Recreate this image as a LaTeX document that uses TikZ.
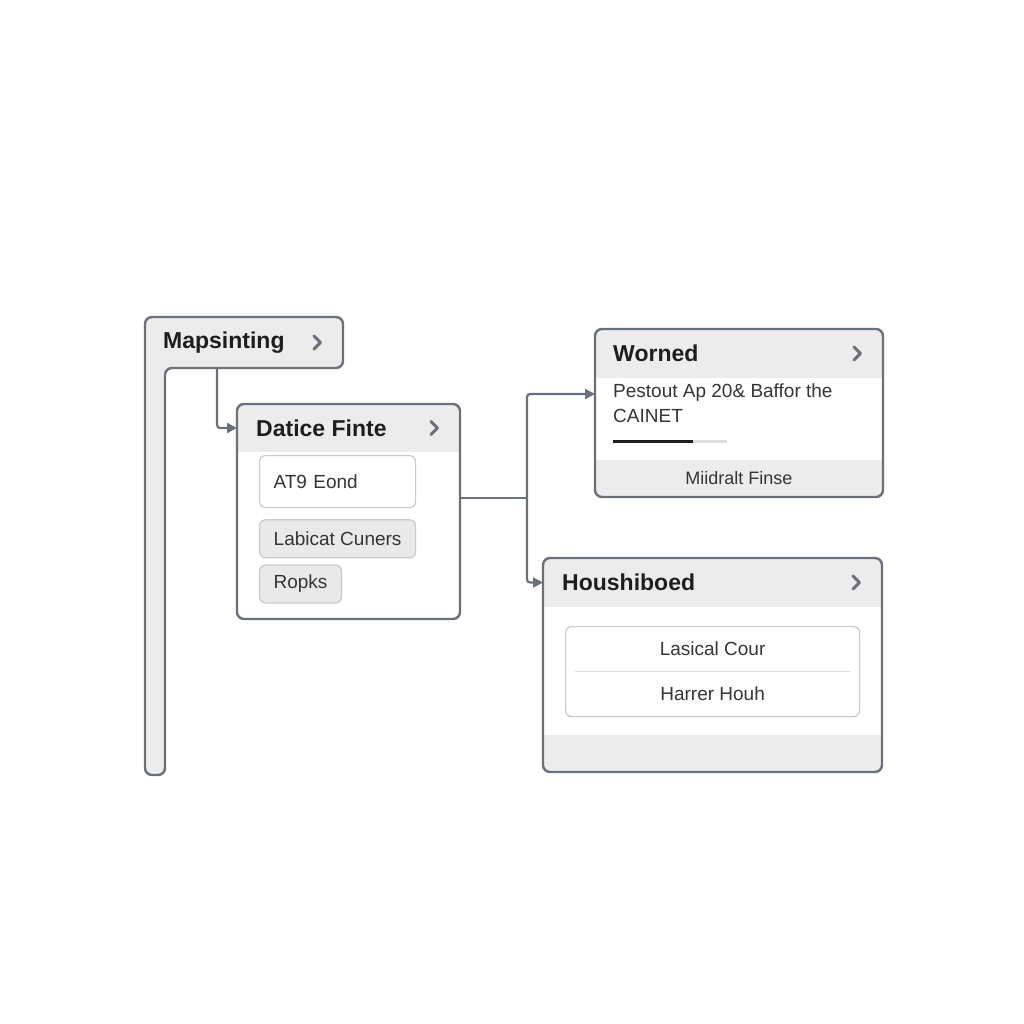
\documentclass[tikz,border=0pt]{standalone}
\usepackage{fontspec}
\setmainfont{Liberation Sans}
\usepackage{xcolor}
\usetikzlibrary{positioning,arrows.meta}

\definecolor{edge}{HTML}{6B7079}
\definecolor{band}{HTML}{ECECEC}
\definecolor{chipfill}{HTML}{E9E9E9}
\definecolor{chipedge}{HTML}{C9C9C9}
\definecolor{ink}{HTML}{1E1E1E}
\definecolor{txt}{HTML}{353535}
\definecolor{barbg}{HTML}{DDDDDD}

\newcommand{\chevat}[1]{\draw[chev] ([shift={(-29pt,6.5pt)}]#1) -- ++(6.5,6.5) -- ++(-6.5,6.5);}

\begin{document}
\begin{tikzpicture}[x=1pt, y=-1pt, font=\sffamily,
    card/.style={fill=white, inner sep=0pt, outer sep=0pt, anchor=north west},
    frame/.style={draw=edge, line width=2.4pt, rounded corners=7pt},
    hdr/.style={inner sep=0pt, outer sep=0pt, anchor=north west},
    title/.style={font=\bfseries\fontsize{23}{27}\selectfont, text=ink, inner sep=0pt, anchor=west},
    body/.style={font=\fontsize{19}{25}\selectfont, text=txt, inner sep=0pt},
    chip/.style={draw=chipedge, line width=1.2pt, rounded corners=6pt, font=\fontsize{19}{23}\selectfont, text=txt, inner xsep=14pt, inner ysep=0pt, anchor=north west},
    link/.style={draw=edge, line width=2.2pt, rounded corners=3pt, -{Triangle[length=10pt,width=10pt]}},
    wire/.style={draw=edge, line width=2.2pt, rounded corners=3pt},
    chev/.style={draw=edge, line width=3pt, line cap=round, line join=round}]
	\fill[white] (0,0) rectangle (1024,1024);
	\useasboundingbox (0,0) rectangle (1024,1024);

	% left rail with its header
	\filldraw[frame, fill=band] (145,317) -- (343,317) -- (343,368) -- (165,368) -- (165,775) -- (145,775) -- cycle;
	\node[hdr, minimum width=198pt, minimum height=51pt] (maps) at (145,317) {};
	\node[title] (mapsTitle) at ([xshift=18pt]maps.west) {Mapsinting};
	\chevat{maps.east}

	% middle card
	\node[card, minimum width=223pt, minimum height=215pt] (datice) at (237,404) {};
	\node[hdr, minimum width=223pt, minimum height=48pt] (daticeHdr) at (datice.north west) {};
	\begin{scope}
		\clip[rounded corners=7pt] (datice.north west) rectangle (datice.south east);
		\fill[band] (daticeHdr.north west) rectangle (daticeHdr.south east);
	\end{scope}
	\draw[frame] (datice.north west) rectangle (datice.south east);
	\node[title] (daticeTitle) at ([xshift=19pt]daticeHdr.west) {Datice Finte};
	\chevat{daticeHdr.east}
	\node[chip, fill=white, minimum height=52pt, text width=128pt, align=left] (at9) at ([shift={(22pt,-3pt)}]daticeHdr.south west) {AT9 Eond};
	\node[chip, fill=chipfill, minimum height=38pt, minimum width=156pt, below=11pt of at9.south west, anchor=north west] (labicat) {Labicat Cuners};
	\node[chip, fill=chipfill, minimum height=38pt, minimum width=78pt, below=6pt of labicat.south west, anchor=north west] (ropks) {Ropks};

	% top right card
	\node[card, minimum width=288pt, minimum height=168pt] (worned) at (595,329) {};
	\node[hdr, minimum width=288pt, minimum height=49pt] (wornedHdr) at (worned.north west) {};
	\node[hdr, minimum width=288pt, minimum height=37pt, anchor=south west] (wornedFoot) at (worned.south west) {};
	\begin{scope}
		\clip[rounded corners=7pt] (worned.north west) rectangle (worned.south east);
		\fill[band] (wornedHdr.north west) rectangle (wornedHdr.south east);
		\fill[band] (wornedFoot.north west) rectangle (wornedFoot.south east);
	\end{scope}
	\draw[frame] (worned.north west) rectangle (worned.south east);
	\node[title] (wornedTitle) at ([xshift=18pt]wornedHdr.west) {Worned};
	\chevat{wornedHdr.east}
	\node[body, anchor=north west, align=left] (wornedTxt) at ([shift={(18pt,-6pt)}]wornedHdr.south west) {Pestout Ap 20\& Baffor the\\CAINET};
	\draw[barbg, line width=3pt] ([shift={(18pt,-63pt)}]wornedHdr.south west) -- ++(114,0);
	\draw[ink, line width=3pt] ([shift={(18pt,-63pt)}]wornedHdr.south west) -- ++(80,0);
	\node[body, font=\fontsize{18}{22}\selectfont] (wornedNote) at (wornedFoot.center) {Miidralt Finse};

	% lower right card
	\node[card, minimum width=339pt, minimum height=214pt] (housh) at (543,558) {};
	\node[hdr, minimum width=339pt, minimum height=49pt] (houshHdr) at (housh.north west) {};
	\node[hdr, minimum width=339pt, minimum height=37pt, anchor=south west] (houshFoot) at (housh.south west) {};
	\begin{scope}
		\clip[rounded corners=7pt] (housh.north west) rectangle (housh.south east);
		\fill[band] (houshHdr.north west) rectangle (houshHdr.south east);
		\fill[band] (houshFoot.north west) rectangle (houshFoot.south east);
	\end{scope}
	\draw[frame] (housh.north west) rectangle (housh.south east);
	\node[title] (houshTitle) at ([xshift=19pt]houshHdr.west) {Houshiboed};
	\chevat{houshHdr.east}
	\node[chip, fill=white, minimum width=294pt, minimum height=90pt] (houshList) at ([shift={(22pt,-19pt)}]houshHdr.south west) {};
	\draw[barbg, line width=1pt] ([xshift=10pt]houshList.west) -- ([xshift=-10pt]houshList.east);
	\node[body] (lasical) at ([yshift=23pt]houshList.center) {Lasical Cour};
	\node[body] (harrer) at ([yshift=-22pt]houshList.center) {Harrer Houh};

	% connectors
	\coordinate (split) at (527,498);
	\coordinate (wornedIn) at ([yshift=19pt]worned.west);
	\draw[link] ([xshift=72pt]maps.south west) |- (daticeHdr.west);
	\draw[wire] (datice.east |- split) -- (split);
	\draw[link] (split) |- (wornedIn);
	\draw[link] (split) |- (houshHdr.west);
\end{tikzpicture}
\end{document}
